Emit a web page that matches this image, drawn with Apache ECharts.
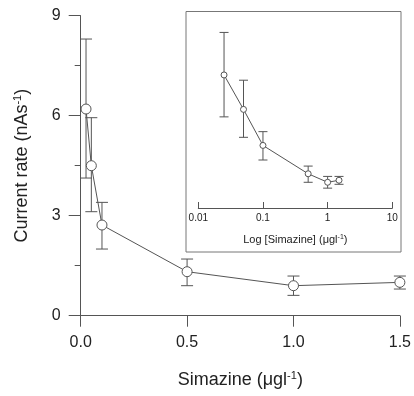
<!DOCTYPE html>
<html>
<head>
<meta charset="utf-8">
<script src="https://cdn.jsdelivr.net/npm/echarts@6/dist/echarts.min.js"></script>
<style>html,body{margin:0;padding:0;background:#fff;}#c{width:414px;height:396px;}</style>
</head>
<body>
<div id="c"></div>
<script>
// Simazine concentration (µg/l)
const concentrations = [0.025, 0.05, 0.1, 0.5, 1.0, 1.5];
// Current rate (nAs^-1) means and error bar limits
const currentRate = [6.2, 4.5, 2.72, 1.32, 0.9, 1.0];
const errorUpper = [8.3, 5.94, 3.4, 1.7, 1.19, 1.19];
const errorLower = [4.13, 3.12, 2.0, 0.9, 0.61, 0.8];
// Tick labels
const mainXTicks = [0, 0.5, 1.0, 1.5];
const mainYTicks = [0, 3, 6, 9];
const insetXTicks = [0.01, 0.1, 1, 10];

const axisColor = '#555';
const lineColor = '#555';
const textColor = '#222';
const fontFamily = 'Liberation Sans, Arial, sans-serif';

const pointData = concentrations.map((x, i) => [x, currentRate[i]]);
const errData = concentrations.map((x, i) => [x, errorLower[i], errorUpper[i]]);

function errRender(capHalf) {
  return function (params, api) {
    const x = api.value(0);
    const lo = api.coord([x, api.value(1)]);
    const hi = api.coord([x, api.value(2)]);
    const st = { stroke: lineColor, lineWidth: 1, fill: null };
    return {
      type: 'group',
      children: [
        { type: 'line', shape: { x1: lo[0], y1: lo[1], x2: hi[0], y2: hi[1] }, style: st },
        { type: 'line', shape: { x1: lo[0] - capHalf, y1: lo[1], x2: lo[0] + capHalf, y2: lo[1] }, style: st },
        { type: 'line', shape: { x1: hi[0] - capHalf, y1: hi[1], x2: hi[0] + capHalf, y2: hi[1] }, style: st }
      ]
    };
  };
}

const chart = echarts.init(document.getElementById('c'), null, { renderer: 'canvas' });

const option = {
  animation: false,
  backgroundColor: '#fff',
  textStyle: { fontFamily: fontFamily },
  graphic: [{
    type: 'rect',
    shape: { x: 186, y: 11.5, width: 215, height: 240.5 },
    style: { fill: null, stroke: '#777', lineWidth: 1 },
    z: 0
  }],
  grid: [
    { left: 80.7, right: 13, top: 15.7, bottom: 80.3 },
    { left: 198.3, right: 21.7, top: 18.25, bottom: 188 }
  ],
  xAxis: [{
    gridIndex: 0, type: 'value', min: 0, max: 1.5, interval: 0.5,
    name: '{b|Simazine (\u03bcgl}{s|-1}{b|)}',
    nameLocation: 'middle', nameGap: 55,
    nameTextStyle: {
      color: textColor, fontFamily: fontFamily,
      rich: {
        b: { fontSize: 18, color: textColor, fontFamily: fontFamily },
        s: { fontSize: 11, color: textColor, fontFamily: fontFamily, verticalAlign: 'top', lineHeight: 14 }
      }
    },
    axisLine: { show: true, onZero: false, lineStyle: { color: axisColor, width: 1 } },
    axisTick: { show: true, inside: false, length: 11, lineStyle: { color: axisColor } },
    splitLine: { show: false },
    axisLabel: {
      color: textColor, fontSize: 16, margin: 19, fontFamily: fontFamily,
      formatter: v => mainXTicks.indexOf(v) >= 0 ? v.toFixed(1) : ''
    }
  }, {
    gridIndex: 1, type: 'log', min: 0.01, max: 10, logBase: 10,
    name: '{b|Log [Simazine] (\u03bcgl}{s|-1}{b|)}',
    nameLocation: 'middle', nameGap: 26,
    nameTextStyle: {
      color: textColor, fontFamily: fontFamily,
      rich: {
        b: { fontSize: 11, color: textColor, fontFamily: fontFamily },
        s: { fontSize: 7, color: textColor, fontFamily: fontFamily, verticalAlign: 'top', lineHeight: 9 }
      }
    },
    axisLine: { show: true, onZero: false, lineStyle: { color: axisColor, width: 1 } },
    axisTick: { show: true, inside: true, length: 6, lineStyle: { color: axisColor } },
    minorTick: { show: false },
    splitLine: { show: false },
    axisLabel: {
      color: textColor, fontSize: 10, margin: 5, fontFamily: fontFamily,
      formatter: v => {
        const m = insetXTicks.find(t => Math.abs(t - v) / t < 1e-6);
        return m !== undefined ? String(m) : '';
      }
    }
  }],
  yAxis: [{
    gridIndex: 0, type: 'value', min: 0, max: 9, interval: 3,
    name: '{b|Current rate (nAs}{s|-1}{b|)}',
    nameLocation: 'middle', nameGap: 50,
    nameTextStyle: {
      color: textColor, fontFamily: fontFamily,
      rich: {
        b: { fontSize: 18, color: textColor, fontFamily: fontFamily },
        s: { fontSize: 11, color: textColor, fontFamily: fontFamily, verticalAlign: 'top', lineHeight: 14 }
      }
    },
    axisLine: { show: true, onZero: false, lineStyle: { color: axisColor, width: 1 } },
    axisTick: { show: true, inside: false, length: 12, lineStyle: { color: axisColor } },
    minorTick: { show: true, splitNumber: 2, length: 6, lineStyle: { color: axisColor } },
    splitLine: { show: false },
    axisLabel: {
      color: textColor, fontSize: 16, margin: 20, fontFamily: fontFamily,
      formatter: v => mainYTicks.indexOf(v) >= 0 ? String(v) : ''
    }
  }, {
    gridIndex: 1, type: 'value', min: -0.37, max: 9, show: false
  }],
  series: [
    {
      type: 'custom', xAxisIndex: 0, yAxisIndex: 0,
      renderItem: errRender(6), data: errData, encode: { x: 0, y: [1, 2] }, z: 2, silent: true
    },
    {
      type: 'line', xAxisIndex: 0, yAxisIndex: 0, data: pointData,
      symbol: 'circle', symbolSize: 10, showSymbol: true,
      lineStyle: { color: lineColor, width: 1 },
      itemStyle: { color: '#fff', borderColor: lineColor, borderWidth: 1 },
      z: 3, silent: true
    },
    {
      type: 'custom', xAxisIndex: 1, yAxisIndex: 1,
      renderItem: errRender(4.5), data: errData, encode: { x: 0, y: [1, 2] }, z: 2, silent: true
    },
    {
      type: 'line', xAxisIndex: 1, yAxisIndex: 1, data: pointData,
      symbol: 'circle', symbolSize: 6, showSymbol: true,
      lineStyle: { color: lineColor, width: 1 },
      itemStyle: { color: '#fff', borderColor: lineColor, borderWidth: 1 },
      z: 3, silent: true
    }
  ]
};
chart.setOption(option);
</script>
</body>
</html>
